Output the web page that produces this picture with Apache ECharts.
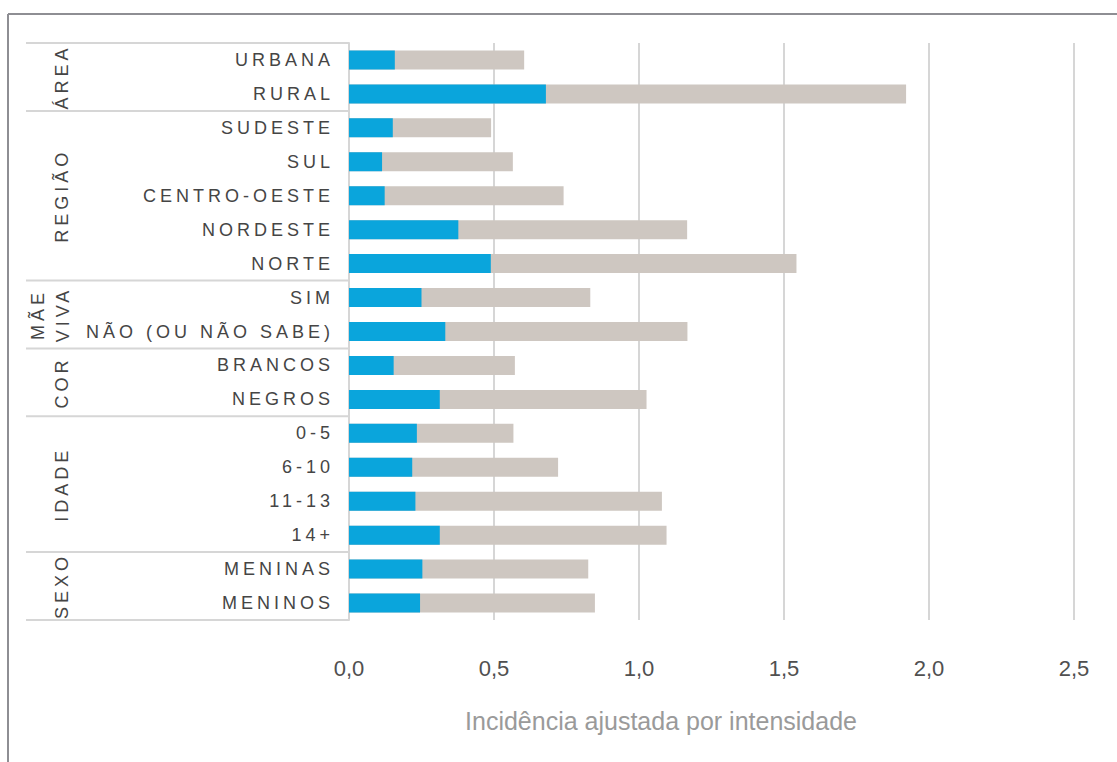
<!DOCTYPE html>
<html>
<head>
<meta charset="utf-8">
<script src="https://cdn.jsdelivr.net/npm/echarts@6/dist/echarts.min.js"></script>
<style>
  html, body { margin: 0; padding: 0; background: #fff; }
  #chart { width: 1117px; height: 762px; }
</style>
</head>
<body>
<div id="chart"></div>
<script>
// categorias, de cima para baixo
const categories = ['URBANA', 'RURAL', 'SUDESTE', 'SUL', 'CENTRO-OESTE', 'NORDESTE', 'NORTE',
  'SIM', 'NÃO (OU NÃO SABE)', 'BRANCOS', 'NEGROS', '0-5', '6-10', '11-13', '14+', 'MENINAS', 'MENINOS']
// parte azul
const incidencia = [0.158, 0.679, 0.151, 0.114, 0.123, 0.377, 0.489,
  0.250, 0.332, 0.154, 0.313, 0.234, 0.218, 0.229, 0.313, 0.253, 0.245]
// barra total (cinza)
const ajustada = [0.604, 1.921, 0.490, 0.565, 0.740, 1.166, 1.543,
  0.832, 1.167, 0.572, 1.026, 0.567, 0.721, 1.079, 1.095, 0.825, 0.848]
// grupos: nome, primeira e última categoria
const groupNames = ['ÁREA', 'REGIÃO', 'MÃE\nVIVA', 'COR', 'IDADE', 'SEXO']
const groupStart = [0, 2, 7, 9, 11, 15]
const groupEnd = [1, 6, 8, 10, 14, 16]
const xTicks = [0, 0.5, 1, 1.5, 2, 2.5]

const axisTitle = 'Incidência ajustada por intensidade'
const lineColor = '#d6d6d6'
const labelColor = '#454545'
const spaced = new Set(categories.concat(groupNames.map(g => g.split('\n')).flat()))

const chart = echarts.init(document.getElementById('chart'), null, { renderer: 'svg' })

chart.setOption({
  animation: false,
  grid: { left: 349, right: 43, top: 43, bottom: 142 },
  xAxis: {
    type: 'value',
    min: xTicks[0],
    max: xTicks[xTicks.length - 1],
    interval: 0.5,
    axisLine: { show: false },
    axisTick: { show: false },
    splitLine: { lineStyle: { color: lineColor, width: 2 } },
    axisLabel: {
      margin: 37,
      color: '#505050',
      fontSize: 22,
      fontFamily: '"Liberation Sans Narrow", "Liberation Sans", Arial, sans-serif',
      formatter: v => v.toFixed(1).replace('.', ',')
    }
  },
  yAxis: {
    type: 'category',
    data: categories,
    inverse: true,
    axisLine: { show: true, lineStyle: { color: lineColor, width: 2 } },
    axisTick: { show: false },
    axisLabel: {
      margin: 15,
      color: labelColor,
      fontSize: 18,
      fontFamily: '"Liberation Sans", Arial, sans-serif'
    }
  },
  series: [
    {
      name: 'Ajustada',
      type: 'bar',
      data: ajustada,
      barWidth: 19,
      barGap: '-100%',
      itemStyle: { color: '#cec7c1' },
      z: 2
    },
    {
      name: 'Incidência',
      type: 'bar',
      data: incidencia,
      barWidth: 19,
      barGap: '-100%',
      itemStyle: { color: '#0aa5dc' },
      z: 3
    }
  ]
})

// linhas da tabela e rótulos dos grupos
const yOf = i => chart.convertToPixel({ yAxisIndex: 0 }, i)
const step = yOf(1) - yOf(0)
const graphics = [
  { type: 'line', shape: { x1: 8, y1: 14, x2: 1117, y2: 14 }, style: { stroke: '#8e8e93', lineWidth: 2 } },
  { type: 'line', shape: { x1: 8, y1: 14, x2: 8, y2: 762 }, style: { stroke: '#8e8e93', lineWidth: 2 } },
  {
    type: 'text', x: 661, y: 721,
    style: {
      text: axisTitle, fill: '#9a9a9a', fontSize: 25,
      fontFamily: '"Liberation Sans Narrow", "Liberation Sans", Arial, sans-serif',
      align: 'center', verticalAlign: 'middle'
    }
  }
]
const boundaries = [yOf(0) - step / 2].concat(groupEnd.map(e => yOf(e) + step / 2))
boundaries.forEach(y => {
  graphics.push({ type: 'line', shape: { x1: 26, y1: y, x2: 349, y2: y }, style: { stroke: lineColor, lineWidth: 2 } })
})
groupNames.forEach((name, i) => {
  const mid = (yOf(groupStart[i]) + yOf(groupEnd[i])) / 2
  const twoLines = name.indexOf('\n') >= 0
  graphics.push({
    type: 'text', x: twoLines ? 50 : 62, y: mid, rotation: Math.PI / 2,
    style: {
      text: name, fill: labelColor, fontSize: 18, lineHeight: 25,
      fontFamily: '"Liberation Sans", Arial, sans-serif',
      align: 'center', verticalAlign: 'middle'
    }
  })
})
chart.setOption({ graphic: graphics })

// espaçamento entre letras dos rótulos
const spaceLetters = () => {
  document.querySelectorAll('#chart text, #chart tspan').forEach(t => {
    if (spaced.has(t.textContent.trim())) t.setAttribute('letter-spacing', '4')
  })
}
chart.on('finished', spaceLetters)
spaceLetters()
setTimeout(spaceLetters, 50)
</script>
</body>
</html>
